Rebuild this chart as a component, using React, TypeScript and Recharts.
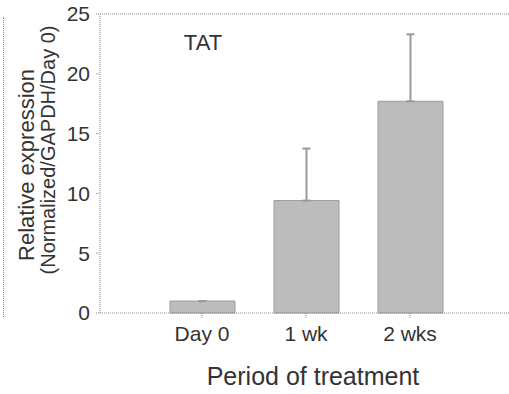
import { Bar, BarChart, ErrorBar, Label, ReferenceLine, XAxis, YAxis } from "recharts";

const periods = ["Day 0", "1 wk", "2 wks"];
const expression = [1.0, 9.4, 17.7];
const errorUp = [0, 4.35, 5.6];
const yTicks = [0, 5, 10, 15, 20, 25];

const data = periods.map((period, i) => ({
  period,
  value: expression[i],
  err: [0, errorUp[i]],
}));

const ink = "#333";
const dotted = "#8a8a8a";
const font = "'Liberation Sans', Arial, sans-serif";

// two-line rotated title for the y axis
function YTitle(props: any) {
  const vb = props.viewBox || {};
  const top = vb.y ?? 14;
  return (
    <g fill={ink} fontFamily={font}>
      <text transform={`translate(34, ${top + 151}) rotate(-90)`} textAnchor="middle" fontSize={22}>
        Relative expression
      </text>
      <text transform={`translate(55, ${top + 136}) rotate(-90)`} textAnchor="middle" fontSize={20}>
        (Normalized/GAPDH/Day 0)
      </text>
    </g>
  );
}

export default function App() {
  return (
    <div
      style={{
        position: "absolute",
        left: 0,
        top: 0,
        width: 509,
        height: 394,
        overflow: "hidden",
        background: "#fff",
      }}
    >
      <div
        style={{
          position: "absolute",
          left: 3,
          top: 17,
          height: 300,
          borderLeft: `1px dotted ${dotted}`,
        }}
      />
      <BarChart
        width={509}
        height={394}
        data={data}
        margin={{ top: 14, right: 0, left: 0, bottom: 0 }}
        barSize={65}
      >
        <XAxis
          dataKey="period"
          height={81}
          padding={{ left: 50, right: 47 }}
          tickSize={5}
          tickMargin={8}
          stroke={dotted}
          strokeDasharray="1 1"
          tick={{ fill: ink, fontSize: 21, fontFamily: font }}
        >
          <Label
            content={() => (
              <text x={313} y={385} textAnchor="middle" fill={ink} fontSize={25} fontFamily={font}>
                Period of treatment
              </text>
            )}
          />
        </XAxis>
        <YAxis
          width={100}
          domain={[0, 25]}
          ticks={yTicks}
          tickSize={4}
          tickMargin={6}
          stroke={dotted}
          strokeDasharray="1 1"
          tick={{ fill: ink, fontSize: 21, fontFamily: font }}
        >
          <Label content={YTitle} />
        </YAxis>
        <ReferenceLine y={25} stroke={dotted} strokeDasharray="1 1" />
        <Bar dataKey="value" fill="#bcbcbc" stroke="#9c9c9c" isAnimationActive={false}>
          <ErrorBar dataKey="err" direction="y" width={4} stroke="#9a9a9a" strokeWidth={2} />
        </Bar>
        <text x={203} y={50} textAnchor="middle" fill={ink} fontSize={22} fontFamily={font}>
          TAT
        </text>
      </BarChart>
    </div>
  );
}
